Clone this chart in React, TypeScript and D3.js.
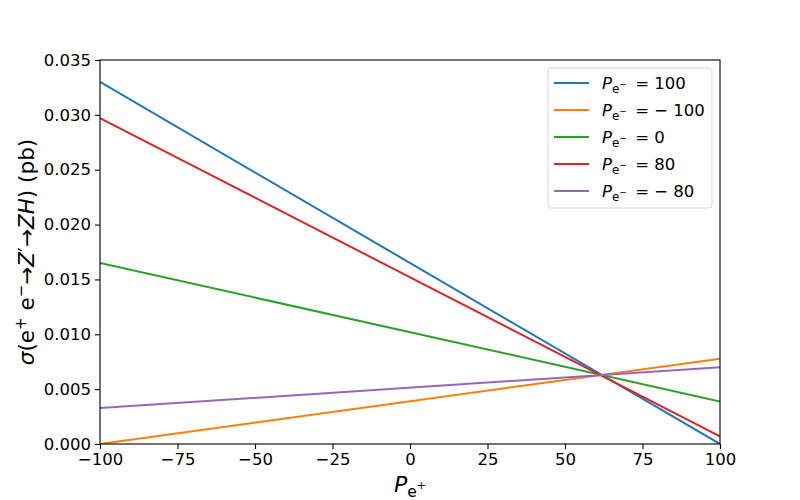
import React, { useRef, useEffect } from "react";
import * as d3 from "d3";

// positron polarisation (%) at the ends of the plotted range
const pePlus = [-100, 100];

// electron polarisation for each curve
const peMinus = ["100", "\u2212 100", "0", "80", "\u2212 80"];

// cross section (pb) at pePlus, one array per curve
const sigma100 = [0.033, 0.0];
const sigmaM100 = [0.0, 0.00778];
const sigma0 = [0.0165, 0.00388];
const sigma80 = [0.0297, 0.0007];
const sigmaM80 = [0.00327, 0.007];

const seriesValues = [sigma100, sigmaM100, sigma0, sigma80, sigmaM80];
const colors = ["#1f77b4", "#ff7f0e", "#2ca02c", "#d62728", "#9467bd"];

const xTicks = [-100, -75, -50, -25, 0, 25, 50, 75, 100];
const yTicks = [0, 0.005, 0.01, 0.015, 0.02, 0.025, 0.03, 0.035];

const FONT = "'DejaVu Sans', sans-serif";

const CrossSectionChart = () => {
	const svgRef = useRef<SVGSVGElement | null>(null);

	useEffect(() => {
		if (!svgRef.current) return;
		const width = 800;
		const height = 500;
		const margin = { top: 60, right: 80, bottom: 56, left: 100 };
		const innerWidth = width - margin.left - margin.right;
		const innerHeight = height - margin.top - margin.bottom;

		const svg = d3.select(svgRef.current);
		svg.selectAll("*").remove();
		svg.attr("width", width).attr("height", height);

		svg.append("rect").attr("width", width).attr("height", height).attr("fill", "#fff");

		const g = svg.append("g").attr("transform", `translate(${margin.left},${margin.top})`);

		const x = d3.scaleLinear().domain([-100, 100]).range([0, innerWidth]);
		const y = d3.scaleLinear().domain([0, 0.035]).range([innerHeight, 0]);

		const line = d3
			.line<number>()
			.x((_, i) => x(pePlus[i]))
			.y((d) => y(d));

		g.append("defs")
			.append("clipPath")
			.attr("id", "plotClip")
			.append("rect")
			.attr("width", innerWidth)
			.attr("height", innerHeight);

		const plot = g.append("g").attr("clip-path", "url(#plotClip)");
		seriesValues.forEach((vals, i) => {
			plot.append("path")
				.datum(vals)
				.attr("d", line)
				.attr("fill", "none")
				.attr("stroke", colors[i])
				.attr("stroke-width", 2);
		});

		// axes
		const xAxis = d3
			.axisBottom(x)
			.tickValues(xTicks)
			.tickSize(5)
			.tickPadding(4)
			.tickFormat((d) => d3.format("d")(d as number));
		const yAxis = d3
			.axisLeft(y)
			.tickValues(yTicks)
			.tickSize(5)
			.tickPadding(4)
			.tickFormat((d) => d3.format(".3f")(d as number));

		const gx = g.append("g").attr("transform", `translate(0,${innerHeight})`).call(xAxis);
		const gy = g.append("g").call(yAxis);
		[gx, gy].forEach((ax) => {
			ax.select(".domain").remove();
			ax.selectAll("line").attr("stroke", "#000").attr("stroke-width", 1.1);
			ax.selectAll("text").attr("font-family", FONT).attr("font-size", 16.5).attr("fill", "#000");
		});

		// frame
		g.append("rect")
			.attr("width", innerWidth)
			.attr("height", innerHeight)
			.attr("fill", "none")
			.attr("stroke", "#000")
			.attr("stroke-width", 1.1);

		// x label
		const xl = svg
			.append("text")
			.attr("x", margin.left + innerWidth / 2)
			.attr("y", 492)
			.attr("text-anchor", "middle")
			.attr("font-family", FONT)
			.attr("font-size", 22);
		xl.append("tspan").attr("font-style", "italic").text("P");
		xl.append("tspan").attr("dy", 5).attr("font-size", 15.5).text("e");
		xl.append("tspan").attr("dy", -8).attr("font-size", 11).text("+");

		// y label
		const yl = svg
			.append("text")
			.attr("transform", `translate(34,${margin.top + innerHeight / 2}) rotate(-90)`)
			.attr("text-anchor", "middle")
			.attr("font-family", FONT)
			.attr("font-size", 21.5);
		yl.append("tspan").attr("font-style", "italic").text("\u03c3");
		yl.append("tspan").text("(e");
		yl.append("tspan").attr("dy", -8).attr("font-size", 15).text("+");
		yl.append("tspan").attr("dy", 8).text(" e");
		yl.append("tspan").attr("dy", -8).attr("font-size", 15).text("\u2212");
		yl.append("tspan").attr("dy", 8).text("\u2192");
		yl.append("tspan").attr("font-style", "italic").text("Z");
		yl.append("tspan").text("\u2032\u2192");
		yl.append("tspan").attr("font-style", "italic").text("ZH");
		yl.append("tspan").text(") (pb)");

		// legend
		const lg = g.append("g").attr("transform", `translate(${innerWidth - 172},8)`);
		lg.append("rect")
			.attr("width", 164)
			.attr("height", 140)
			.attr("rx", 3)
			.attr("fill", "#fff")
			.attr("fill-opacity", 0.8)
			.attr("stroke", "#d6d6d6")
			.attr("stroke-width", 1);
		peMinus.forEach((lab, i) => {
			const yy = 15 + i * 27;
			lg.append("line")
				.attr("x1", 6)
				.attr("x2", 41)
				.attr("y1", yy)
				.attr("y2", yy)
				.attr("stroke", colors[i])
				.attr("stroke-width", 2);
			const t = lg
				.append("text")
				.attr("x", 54)
				.attr("y", yy + 6)
				.attr("font-family", FONT)
				.attr("font-size", 16.5);
			t.append("tspan").attr("font-style", "italic").text("P");
			t.append("tspan").attr("dy", 4).attr("font-size", 12).text("e");
			t.append("tspan").attr("dy", -6).attr("font-size", 9).text("\u2212");
			t.append("tspan").attr("dy", 2).attr("dx", 3).text(` = ${lab}`);
		});
	}, []);

	return (
		<div style={{ position: "absolute", left: 0, top: 0, width: 800, height: 500 }}>
			<svg ref={svgRef} style={{ display: "block" }}></svg>
		</div>
	);
};

export default function App() {
	return <CrossSectionChart />;
}
